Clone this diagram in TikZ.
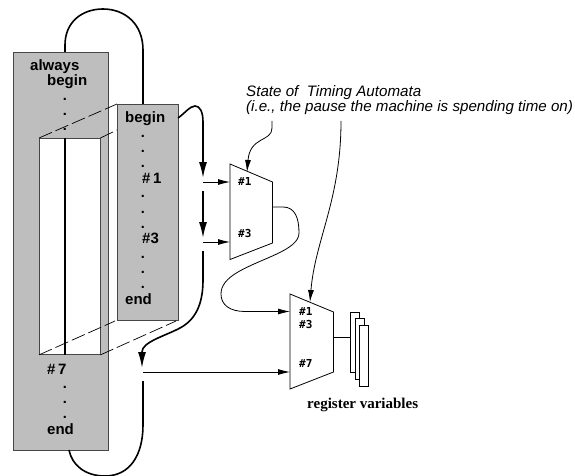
\documentclass[tikz,border=0pt]{standalone}
\usepackage{fontspec}
\setmainfont{Liberation Sans}
\newfontfamily\muxfont{DejaVu Sans Mono}
\newfontfamily\regfont{Liberation Serif}
\usetikzlibrary{arrows.meta,positioning}
\definecolor{blockGray}{RGB}{190,190,190}
\definecolor{edgeGray}{RGB}{70,70,70}
\tikzset{
  block/.style={draw=edgeGray, fill=blockGray, line width=.9pt, anchor=north west, inner sep=0pt},
  window/.style={draw=edgeGray, fill=white, line width=.9pt, anchor=north west, inner sep=0pt},
  code/.style={font=\fontsize{15}{16}\selectfont\bfseries, anchor=base west, inner sep=0pt},
  dotmark/.style={font=\fontsize{14.5}{16}\selectfont\bfseries, inner sep=0pt},
  sel/.style={font=\fontsize{11}{12}\selectfont\muxfont\bfseries, anchor=base west, inner sep=0pt},
  note/.style={font=\fontsize{15.15}{15}\selectfont\itshape, anchor=base west, inner sep=0pt},
  flow/.style={-{Latex[length=16pt,width=8pt]}, line width=1.6pt},
  loop/.style={line width=1.6pt},
  feed/.style={-{Latex[length=12pt,width=6pt]}, line width=.8pt},
  wire/.style={line width=.8pt},
  zoomline/.style={line width=.7pt, dash pattern=on 14pt off 4pt},
  regbox/.style={draw, fill=white, line width=.8pt, anchor=north west, inner sep=0pt}
}
\begin{document}
\begin{tikzpicture}[x=1pt, y=-1pt]
  \useasboundingbox (0,0) rectangle (575,476);
  \node[block, minimum width=95pt, minimum height=398pt] (always) at (13,52) {};
  \node[window, minimum width=60.5pt, minimum height=216pt] (pause) at (39,138) {};
  \node[block, minimum width=60.5pt, minimum height=216pt] (inner) at (117,104) {};
  \draw[line width=1.2pt] (pause.north -| 65,0) coordinate (splita) -- (pause.south -| 65,0) coordinate (splitb);
  \draw[zoomline] (pause.north west) -- (inner.north west);
  \draw[zoomline] (pause.north east) -- (117,130);
  \draw[zoomline] (pause.south west) -- (115,321);
  \draw[zoomline] (pause.south east) -- (176,321);

  \node[code] (always1) at (30,71) {always};
  \node[code] (begin1) at (47,86) {begin};
  \node[dotmark] (d1) at (65,99) {.};
  \node[dotmark] (d2) at (65,114) {.};
  \node[dotmark] (d3) at (65,129) {.};
  \node[code] (hash7) at (47,374) {\#\,7};
  \node[dotmark] (d4) at (65,387) {.};
  \node[dotmark] (d5) at (65,402) {.};
  \node[dotmark] (d6) at (65,417) {.};
  \node[code] (end1) at (47,434) {end};

  \node[code] (begin2) at (125,123) {begin};
  \node[dotmark] (e1) at (143,136) {.};
  \node[dotmark] (e2) at (143,151) {.};
  \node[dotmark] (e3) at (143,166) {.};
  \node[code] (hash1) at (142,183) {\#\,1};
  \node[dotmark] (e4) at (143,196) {.};
  \node[dotmark] (e5) at (143,212) {.};
  \node[dotmark] (e6) at (143,227) {.};
  \node[code] (hash3) at (142,243) {\#3};
  \node[dotmark] (e7) at (143,257) {.};
  \node[dotmark] (e8) at (143,272) {.};
  \node[dotmark] (e9) at (143,287) {.};
  \node[code] (end2) at (125,304) {end};

  \coordinate (topa) at (65,52);
  \coordinate (topb) at (143,104);
  \coordinate (outa) at (178,118);
  \coordinate (run1) at (203,178);
  \coordinate (run2) at (203,191);
  \coordinate (run3) at (203,238);
  \coordinate (run4) at (203,251);
  \coordinate (run5) at (142,368);
  \coordinate (run6) at (143,381);
  \coordinate (bota) at (69,450);
  \draw[loop] (topa) -- (65,45) .. controls (65,22) and (82,9) .. (103,9) .. controls (125,9) and (143,24) .. (143,50) -- (topb);
  \draw[flow] (outa) .. controls (184,114) and (190,106) .. (195,106) .. controls (200,106) and (203,112) .. (203,122) -- (run1);
  \draw[flow] (run2) -- (run3);
  \draw[flow] (run4) -- (203,280) .. controls (203,305) and (195,320) .. (180,328) .. controls (165,336) and (142,342) .. (142,352) -- (run5);
  \draw[loop] (run6) -- (143,425) .. controls (143,455) and (130,476) .. (105,476) .. controls (85,476) and (72,465) .. (bota);

  \coordinate (m1a) at (230,164);
  \coordinate (m1b) at (272.5,182);
  \coordinate (m1c) at (272.5,243);
  \coordinate (m1d) at (230,259.5);
  \coordinate (m1in1) at (230,182);
  \coordinate (m1in3) at (230,242);
  \coordinate (m1out) at (272.5,207);
  \draw[wire] (m1a) -- (m1b) -- (m1c) -- (m1d) -- cycle;
  \node[sel] (s11) at (238,185) {\#1};
  \node[sel] (s13) at (238,237) {\#3};

  \coordinate (m2a) at (290,294);
  \coordinate (m2b) at (333.5,312);
  \coordinate (m2c) at (333.5,372);
  \coordinate (m2d) at (290,389);
  \coordinate (m2in1) at (290,311.5);
  \coordinate (m2in7) at (290,372);
  \coordinate (m2out) at (333.5,337.5);
  \draw[wire] (m2a) -- (m2b) -- (m2c) -- (m2d) -- cycle;
  \node[sel] (s21) at (299,315) {\#1};
  \node[sel] (s23) at (299,328) {\#3};
  \node[sel] (s27) at (299,367) {\#7};

  \node[regbox, minimum width=9pt, minimum height=60.5pt] (reg1) at (350,311.5) {};
  \node[regbox, minimum width=9pt, minimum height=60.5pt] (reg2) at (355,318) {};
  \node[regbox, minimum width=9pt, minimum height=61pt] (reg3) at (359,325) {};
  \node[font=\fontsize{15}{16}\selectfont\regfont\bfseries, anchor=base west, inner sep=0pt] (regs) at (307,408) {register variables};

  \node[note] (state) at (246,97) {State of\ \ Timing Automata};
  \node[note] (state2) at (246,111) {(i.e., the pause the machine is spending time on)};

  \coordinate (tap1) at (203,182);
  \coordinate (tap3) at (203,242);
  \coordinate (tap7) at (143,372);
  \coordinate (nota) at (272,121);
  \coordinate (notb) at (341,121);
  \draw[feed] (tap1) -- (m1in1);
  \draw[feed] (tap3) -- (m1in3);
  \draw[feed] (tap7) -- (m2in7);
  \draw[wire, -{Latex[length=12pt,width=6pt]}] (m1out) -- (283,207) .. controls (295,207) and (299,218) .. (299,233) .. controls (299,250) and (262,258) .. (238,272) .. controls (226,279) and (221,286) .. (221,294) .. controls (221,305) and (230,311.5) .. (245,311.5) -- (m2in1);
  \draw[wire] (m2out) -- (reg1.west |- m2out);
  \draw[wire, -{Latex[length=12pt,width=6pt]}] (nota) -- (272,128) .. controls (272,142) and (250,136) .. (247,172);
  \draw[wire, -{Latex[length=12pt,width=6pt]}] (notb) .. controls (341,200) and (315,240) .. (310,302);
\end{tikzpicture}
\end{document}
